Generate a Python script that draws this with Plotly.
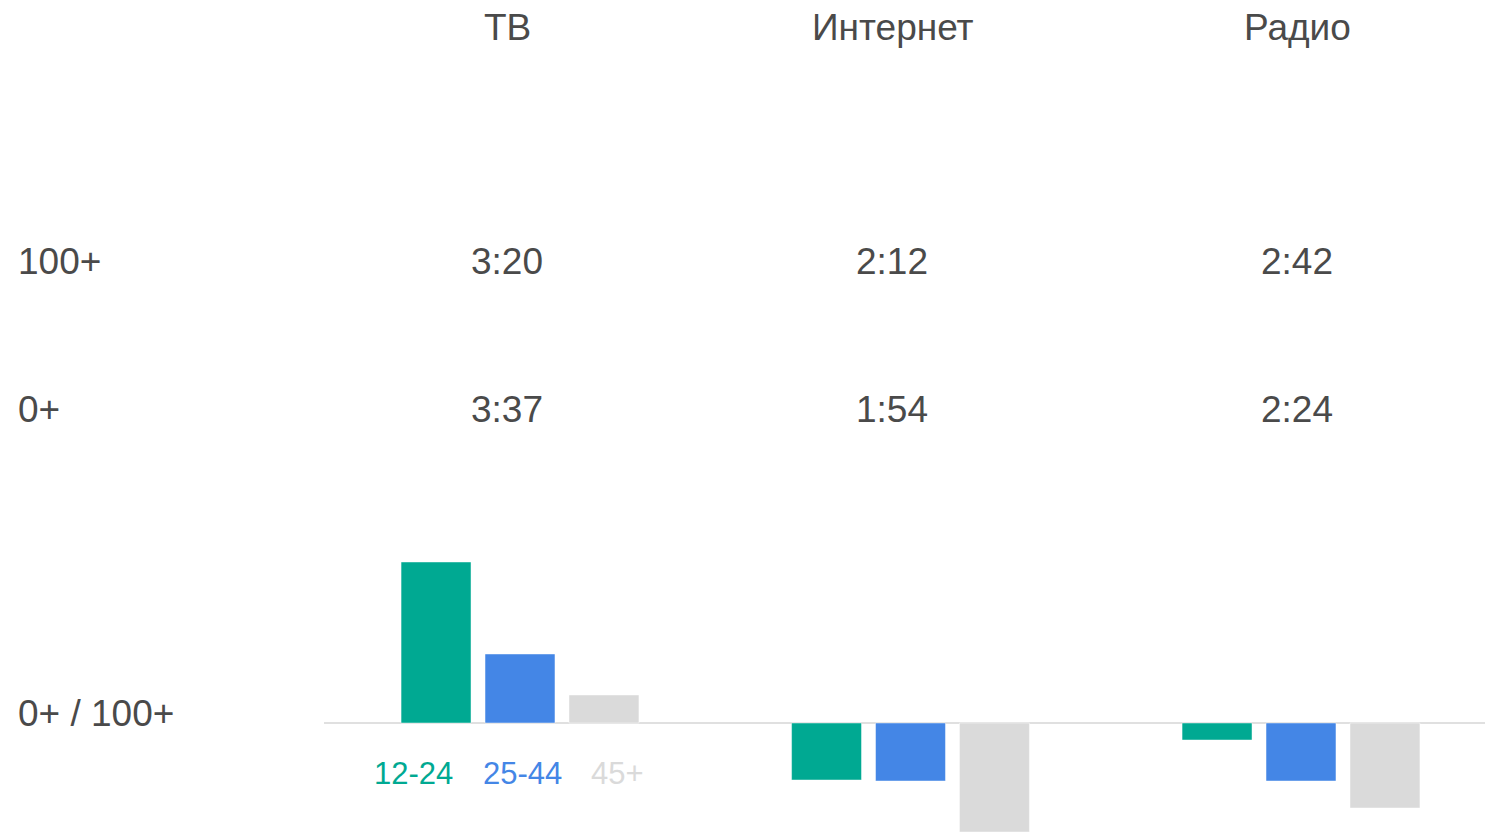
import plotly.graph_objects as go

W, H = 1493, 834
OFF = 8  # page body margin in the browser

media = ["ТВ", "Интернет", "Радио"]
row_labels = ["100+", "0+", "0+ / 100+"]
values_100 = ["3:20", "2:12", "2:42"]
values_0 = ["3:37", "1:54", "2:24"]

age_groups = ["12-24", "25-44", "45+"]
colors = ["#00a992", "#4486e6", "#dadada"]
# 0+ / 100+ difference bars (relative units)
diff_12_24 = [16.1, -5.7, -1.7]
diff_25_44 = [6.9, -5.8, -5.8]
diff_45 = [2.8, -10.9, -8.5]
series = [diff_12_24, diff_25_44, diff_45]

TEXT = "#4a4a4a"
FONT = "Liberation Sans, Arial, sans-serif"

fig = go.Figure()
for name, col, vals in zip(age_groups, colors, series):
    fig.add_trace(go.Bar(
        x=[0, 1, 2], y=vals, name=name,
        marker=dict(color=col, line=dict(color="rgba(255,255,255,0.45)", width=1)),
        hoverinfo="skip", showlegend=False,
    ))

# pixel -> data mapping for x: group centers at 520, 911, 1301 px (screen)
px_per_unit = 390.5
x0_px = 520 - OFF
xr = [(0 - x0_px) / px_per_unit, (W - x0_px) / px_per_unit]
base_px = 723 - OFF
yr = [-(H - base_px) / 10, base_px / 10]

fig.update_layout(
    width=W, height=H,
    margin=dict(l=0, r=0, t=0, b=0),
    paper_bgcolor="white", plot_bgcolor="white",
    barmode="group", bargap=0.355, bargroupgap=0.167,
    xaxis=dict(range=xr, visible=False, fixedrange=True),
    yaxis=dict(range=yr, visible=False, fixedrange=True),
    font=dict(family=FONT, color=TEXT),
)

# baseline
fig.add_shape(type="line", xref="x", yref="y",
              x0=(324 - OFF - x0_px) / px_per_unit, x1=xr[1], y0=0, y1=0,
              line=dict(color="#e0e0e0", width=2), layer="below")

def ann(text, xpx, ypx, size=37, color=TEXT, xanchor="center"):
    fig.add_annotation(text=text, xref="paper", yref="paper",
                       x=(xpx - OFF) / W, y=1 - (ypx - OFF) / H,
                       xanchor=xanchor, yanchor="middle",
                       showarrow=False, font=dict(size=size, color=color, family=FONT))

col_x = [507, 892, 1297]
for m, cx in zip(media, col_x):
    ann(m, cx, 28)
for v, cx in zip(values_100, col_x):
    ann(v, cx, 261)
for v, cx in zip(values_0, col_x):
    ann(v, cx, 409)

row_y = [261, 409, 713]
for lab, ry in zip(row_labels, row_y):
    ann(lab, 16, ry, xanchor="left")

leg_x = [413, 522, 617]
for name, col, lx in zip(age_groups, colors, leg_x):
    ann(name, lx, 773, size=31, color=col)

fig.write_html("out.html")
